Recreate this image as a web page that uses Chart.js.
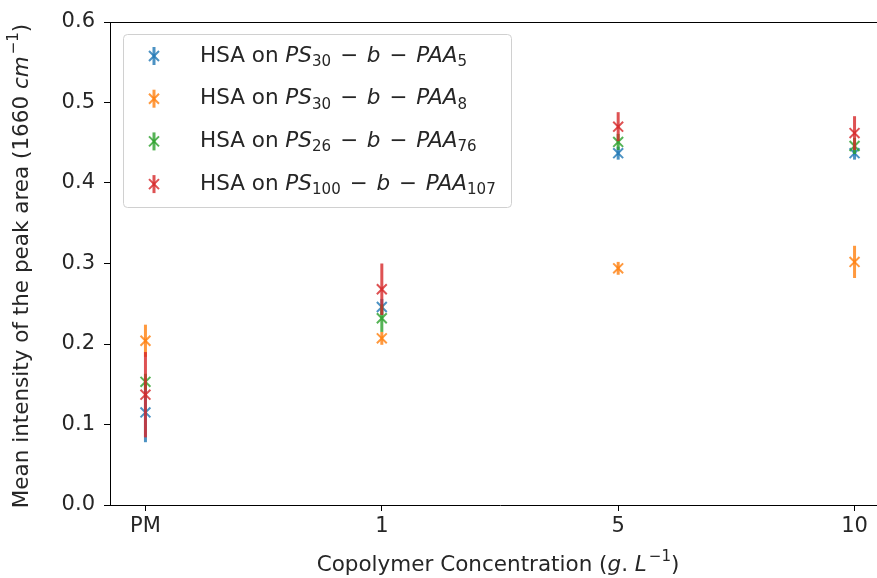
<!DOCTYPE html>
<html>
<head>
<meta charset="utf-8">
<script src="https://cdn.jsdelivr.net/npm/chart.js@4"></script>
<style>
  html, body { margin: 0; padding: 0; background: #fff; overflow: hidden; }
  #wrap { width: 877px; height: 578px; overflow: hidden; }
</style>
</head>
<body>
<div id="wrap"><canvas id="c" width="899" height="578"></canvas></div>
<script>
// ---- data ----
const categories = ["PM", "1", "5", "10"];
const yTicks = [0.0, 0.1, 0.2, 0.3, 0.4, 0.5, 0.6];

const hsaPs30Paa5 = [0.115, 0.246, 0.437, 0.437];
const hsaPs30Paa5Err = [0.037, 0.010, 0.008, 0.008];
const hsaPs30Paa8 = [0.204, 0.207, 0.294, 0.302];
const hsaPs30Paa8Err = [0.020, 0.008, 0.008, 0.020];
const hsaPs26Paa76 = [0.153, 0.232, 0.451, 0.446];
const hsaPs26Paa76Err = [0.010, 0.017, 0.010, 0.010];
const hsaPs100Paa107 = [0.137, 0.268, 0.470, 0.462];
const hsaPs100Paa107Err = [0.053, 0.032, 0.018, 0.021];

const FONT = "'DejaVu Sans', sans-serif";
const FS = 21.5;
const TICK_FS = 21;

// legend labels as rich text pieces: [text, style]; style "gap" = extra px
function mathLabel(ps, paa) {
  return [["HSA on ", "n"], ["PS", "i"], [ps, "sub"], ["", "gap"], [" − ", "n"], ["", "gap"], ["b", "i"],
    ["", "gap"], [" − ", "n"], ["", "gap"], ["PAA", "i"], [paa, "sub"]];
}
const legendLabels = [
  mathLabel("30", "5"),
  mathLabel("30", "8"),
  mathLabel("26", "76"),
  mathLabel("100", "107"),
];
const xTitle = [["Copolymer Concentration (", "n"], ["g", "i"], [". ", "n"], ["L", "i"], ["−1", "sup"], [")", "n"]];
const yTitle = [["Mean intensity of the peak area (1660 ", "n"], ["cm", "i"], ["−1", "sup"], [")", "n"]];

const colors = [
  "rgba(31,119,180,0.8)",
  "rgba(255,127,14,0.8)",
  "rgba(44,160,44,0.8)",
  "rgba(214,39,40,0.8)",
];

function segFont(style, size) {
  const s = (style === "sub" || style === "sup") ? size * 0.7 : size;
  return (style === "i" ? "italic " : "") + s + "px " + FONT;
}

function segAdvance(ctx, t, st, size) {
  if (st === "gap") return 2;
  ctx.font = segFont(st, size);
  return ctx.measureText(t).width + (st === "sup" ? 2 : 0);
}

function drawRich(ctx, segs, x, y, size, align) {
  let cx = x;
  if (align === "center") {
    let w = 0;
    segs.forEach(([t, st]) => { w += segAdvance(ctx, t, st, size); });
    cx = x - w / 2;
  }
  ctx.textBaseline = "middle";
  ctx.textAlign = "left";
  segs.forEach(([t, st]) => {
    if (st === "gap") { cx += 2; return; }
    ctx.font = segFont(st, size);
    let dy = 0;
    if (st === "sub") dy = size * 0.28;
    if (st === "sup") { dy = -size * 0.38; cx += 2; }
    ctx.fillText(t, cx, y + dy);
    cx += ctx.measureText(t).width;
  });
}

const series = [
  { label: "HSA on PS30-b-PAA5", values: hsaPs30Paa5, err: hsaPs30Paa5Err },
  { label: "HSA on PS30-b-PAA8", values: hsaPs30Paa8, err: hsaPs30Paa8Err },
  { label: "HSA on PS26-b-PAA76", values: hsaPs26Paa76, err: hsaPs26Paa76Err },
  { label: "HSA on PS100-b-PAA107", values: hsaPs100Paa107, err: hsaPs100Paa107Err },
];

const datasets = series.map((s, i) => ({
  label: s.label,
  data: s.values.map((v, k) => ({ x: k, y: v })),
  err: s.err,
  pointStyle: "crossRot",
  pointRadius: 7,
  pointHoverRadius: 7,
  pointBorderWidth: 2,
  borderColor: colors[i],
  backgroundColor: colors[i],
  order: 3 - i,
}));

// error bars drawn under each dataset's own markers
const errorBars = {
  id: "errorBars",
  beforeDatasetDraw(chart, args) {
    const ds = chart.data.datasets[args.index];
    const { ctx, scales } = chart;
    ctx.save();
    ctx.strokeStyle = ds.borderColor;
    ctx.lineWidth = 3;
    ds.data.forEach((p, k) => {
      const px = scales.x.getPixelForValue(p.x);
      ctx.beginPath();
      ctx.moveTo(px, scales.y.getPixelForValue(p.y - ds.err[k]));
      ctx.lineTo(px, scales.y.getPixelForValue(p.y + ds.err[k]));
      ctx.stroke();
    });
    ctx.restore();
  },
};

const frameAndText = {
  id: "frameAndText",
  afterDraw(chart) {
    const { ctx, chartArea: a } = chart;
    ctx.save();
    // top edge of the frame (right edge falls outside the window)
    ctx.strokeStyle = "#000";
    ctx.lineWidth = 1;
    ctx.beginPath();
    ctx.moveTo(a.left, a.top + 0.5);
    ctx.lineTo(a.right, a.top + 0.5);
    ctx.stroke();

    // axis titles
    ctx.fillStyle = "#262626";
    drawRich(ctx, xTitle, 498, 565, FS, "center");
    ctx.translate(22, 266);
    ctx.rotate(-Math.PI / 2);
    drawRich(ctx, yTitle, 0, 0, FS, "center");
    ctx.restore();

    // legend
    ctx.save();
    const bx = 123, by = 34, bw = 388, bh = 173;
    ctx.fillStyle = "rgba(255,255,255,0.8)";
    ctx.strokeStyle = "#d0d0d0";
    ctx.lineWidth = 1;
    ctx.beginPath();
    ctx.roundRect(bx + 0.5, by + 0.5, bw, bh, 4);
    ctx.fill();
    ctx.stroke();
    legendLabels.forEach((segs, i) => {
      const y = 56 + i * 42.7;
      const mx = 154;
      ctx.strokeStyle = colors[i];
      ctx.lineWidth = 3;
      ctx.beginPath();
      ctx.moveTo(mx, y - 9);
      ctx.lineTo(mx, y + 9);
      ctx.stroke();
      ctx.lineWidth = 2;
      const r = 5;
      ctx.beginPath();
      ctx.moveTo(mx - r, y - r); ctx.lineTo(mx + r, y + r);
      ctx.moveTo(mx - r, y + r); ctx.lineTo(mx + r, y - r);
      ctx.stroke();
      ctx.fillStyle = "#262626";
      drawRich(ctx, segs, 200, y, FS, "left");
    });
    ctx.restore();
  },
};

new Chart(document.getElementById("c"), {
  type: "scatter",
  data: { datasets },
  options: {
    responsive: false,
    animation: false,
    layout: { padding: { top: 22, right: 3, left: 0, bottom: 0 } },
    plugins: { legend: { display: false }, tooltip: { enabled: false } },
    scales: {
      x: {
        type: "linear",
        min: -0.15,
        max: 3.15,
        afterFit(scale) { scale.height = 73; },
        afterBuildTicks(scale) { scale.ticks = categories.map((c, i) => ({ value: i })); },
        ticks: {
          callback: (v) => categories[v],
          color: "#262626",
          font: { family: FONT, size: TICK_FS },
          padding: 3,
          maxRotation: 0,
        },
        grid: { drawOnChartArea: false, tickLength: 6, tickColor: "#000", tickWidth: 1 },
        border: { color: "#000", width: 1 },
      },
      y: {
        min: 0,
        max: 0.6,
        afterFit(scale) { scale.width = 110; },
        afterBuildTicks(scale) { scale.ticks = yTicks.map((v) => ({ value: v })); },
        ticks: {
          callback: (v) => v.toFixed(1),
          color: "#262626",
          font: { family: FONT, size: TICK_FS },
          padding: 9,
        },
        grid: { drawOnChartArea: false, tickLength: 6, tickColor: "#000", tickWidth: 1 },
        border: { color: "#000", width: 1 },
      },
    },
  },
  plugins: [errorBars, frameAndText],
});
</script>
</body>
</html>
